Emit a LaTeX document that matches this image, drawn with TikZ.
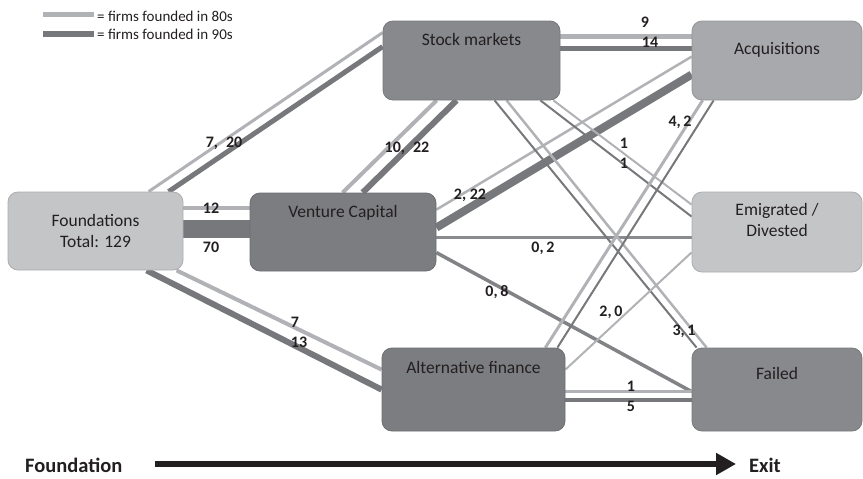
\documentclass[tikz,border=0pt]{standalone}
\usepackage{fontspec}
\setmainfont{Carlito}
\usetikzlibrary{arrows.meta}
\pgfdeclarelayer{bg}
\pgfsetlayers{bg,main}
\definecolor{liteln}{HTML}{B1B2B5}
\definecolor{darkln}{HTML}{77787B}
\definecolor{midln}{HTML}{8A8B8E}
\definecolor{paleBox}{HTML}{C4C5C7}
\definecolor{greyBox}{HTML}{A8A9AC}
\definecolor{midBox}{HTML}{88898C}
\definecolor{darkBox}{HTML}{7C7D80}
\definecolor{txt}{HTML}{231F20}

\begin{document}
\begin{tikzpicture}[x=1pt,y=-1pt,
  stagebox/.style={draw=#1!88!black, fill=#1, rounded corners=10pt, line width=0.8pt,
    inner sep=0pt, text=txt, font=\fontsize{17.5}{21}\selectfont},
  topcap/.style={text height=12pt, text depth=#1},
  num/.style={text=txt, inner sep=0pt, font=\fontsize{16}{18}\selectfont\bfseries},
  lite/.style={draw=liteln},
  dark/.style={draw=darkln}]
\useasboundingbox (0,0) rectangle (863,479);

\node[stagebox=paleBox, minimum width=175pt, minimum height=78pt, align=center] (fnd) at (95.5,231) {Foundations\\Total: 129};
\node[stagebox=darkBox, minimum width=186pt, minimum height=78pt, topcap=42pt] (vc) at (343,232) {Venture Capital};
\node[stagebox=midBox, minimum width=177pt, minimum height=79pt, topcap=42pt] (sm) at (471.5,60.5) {Stock markets};
\node[stagebox=darkBox, minimum width=183pt, minimum height=83pt, topcap=44pt] (alt) at (473.5,389.5) {Alternative finance};
\node[stagebox=greyBox, minimum width=170pt, minimum height=79pt, topcap=24pt] (acq) at (777,60.5) {Acquisitions};
\node[stagebox=paleBox, minimum width=170pt, minimum height=80pt, align=center, text depth=24pt] (emi) at (777,232) {Emigrated /\\Divested};
\node[stagebox=midBox, minimum width=170pt, minimum height=83pt, topcap=32pt] (fail) at (777,389.5) {Failed};

\begin{pgfonlayer}{bg}
\draw[lite, line width=3pt] ([xshift=141pt]fnd.north west) -- ([yshift=-12pt]sm.north west);
\draw[dark, line width=5pt] ([xshift=161pt]fnd.north west) -- ([yshift=-26pt]sm.north west);
\draw[lite, line width=4pt] ([yshift=-16pt]fnd.north east) -- ([yshift=-15pt]vc.north west);
\draw[dark, line width=18pt] ([yshift=-37pt]fnd.north east) -- ([yshift=-36pt]vc.north west);
\draw[lite, line width=4pt] ([xshift=169pt]fnd.south west) -- ([yshift=-22pt]alt.north west);
\draw[dark, line width=6pt] ([xshift=139pt]fnd.south west) -- ([yshift=-42pt]alt.north west);

\draw[lite, line width=4pt] ([xshift=93pt]vc.north west) -- ([xshift=54pt]sm.south west);
\draw[dark, line width=6pt] ([xshift=113pt]vc.north west) -- ([xshift=74pt]sm.south west);
\draw[lite, line width=2.5pt] ([yshift=-17pt]vc.north east) -- ([yshift=-36pt]acq.north west);
\draw[dark, line width=8pt] ([yshift=-35pt]vc.north east) -- ([yshift=-54pt]acq.north west);
\draw[draw=midln, line width=2.5pt] ([yshift=-45pt]vc.north east) -- ([yshift=-46pt]emi.north west);
\draw[draw=darkln!92!white, line width=3.5pt] ([yshift=-60pt]vc.north east) -- ([yshift=-44pt]fail.north west);

\draw[lite, line width=4.5pt] ([yshift=-16pt]sm.north east) -- ([yshift=-16pt]acq.north west);
\draw[dark, line width=5pt] ([yshift=-28pt]sm.north east) -- ([yshift=-28pt]acq.north west);
\draw[lite, line width=2pt] ([xshift=-7pt]sm.south east) -- ([yshift=-13pt]emi.north west);
\draw[dark, line width=2pt] ([xshift=-20pt]sm.south east) -- ([yshift=-25pt]emi.north west);
\draw[lite, line width=2.5pt] ([xshift=124pt]sm.south west) -- ([xshift=15pt]fail.north west);
\draw[dark, line width=2pt] ([xshift=112pt]sm.south west) -- ([xshift=5pt]fail.north west);

\draw[lite, line width=3pt] ([xshift=-20pt]alt.north east) -- ([xshift=11pt]acq.south west);
\draw[dark, line width=2pt] ([xshift=-8pt]alt.north east) -- ([xshift=22pt]acq.south west);
\draw[lite, line width=2pt] ([yshift=-22pt]alt.north east) -- ([yshift=20pt]emi.south west);
\draw[lite, line width=3pt] ([yshift=-44pt]alt.north east) -- ([yshift=-44pt]fail.north west);
\draw[dark, line width=4pt] ([yshift=-52pt]alt.north east) -- ([yshift=-52pt]fail.north west);
\end{pgfonlayer}

\node[num] (n-fs) at (224,143) {7,\enspace 20};
\node[num] (n-fv80) at (211,208) {12};
\node[num] (n-fv90) at (211,247) {70};
\node[num] (n-fa80) at (295,322) {7};
\node[num] (n-fa90) at (299,342) {13};
\node[num] (n-vs) at (407,148) {10,\enspace 22};
\node[num] (n-va) at (470,195) {2,\ 22};
\node[num] (n-ve) at (543,248) {0,\,2};
\node[num] (n-vf) at (497,292) {0,\,8};
\node[num] (n-sa80) at (645,22) {9};
\node[num] (n-sa90) at (650,42) {14};
\node[num] (n-se80) at (624,143) {1};
\node[num] (n-se90) at (624,163) {1};
\node[num] (n-sf) at (684,331) {3,\,1};
\node[num] (n-aa) at (680,122) {4,\,2};
\node[num] (n-ae) at (611,312) {2,\,0};
\node[num] (n-af80) at (631,386) {1};
\node[num] (n-af90) at (631,406) {5};

\draw[lite, line width=5pt] (43,14.5) -- (94,14.5);
\draw[dark, line width=6pt] (43,34) -- (94,34);
\node[anchor=west, inner sep=0pt, text=txt, font=\fontsize{15}{17}\selectfont] (key80) at (97,16) {= firms founded in 80s};
\node[anchor=west, inner sep=0pt, text=txt, font=\fontsize{15}{17}\selectfont] (key90) at (97,34) {= firms founded in 90s};

\node[anchor=west, inner sep=0pt, text=txt, font=\fontsize{20.5}{24}\selectfont\bfseries] (tl-start) at (25,465) {Foundation};
\node[anchor=west, inner sep=0pt, text=txt, font=\fontsize{20.5}{24}\selectfont\bfseries] (tl-exit) at (749,465) {Exit};
\coordinate (tl0) at (155,464);
\coordinate (tl1) at (736,464);
\draw[line width=6pt, draw=txt, -{Triangle[length=20pt,width=21pt]}] (tl0) -- (tl1);
\end{tikzpicture}
\end{document}
